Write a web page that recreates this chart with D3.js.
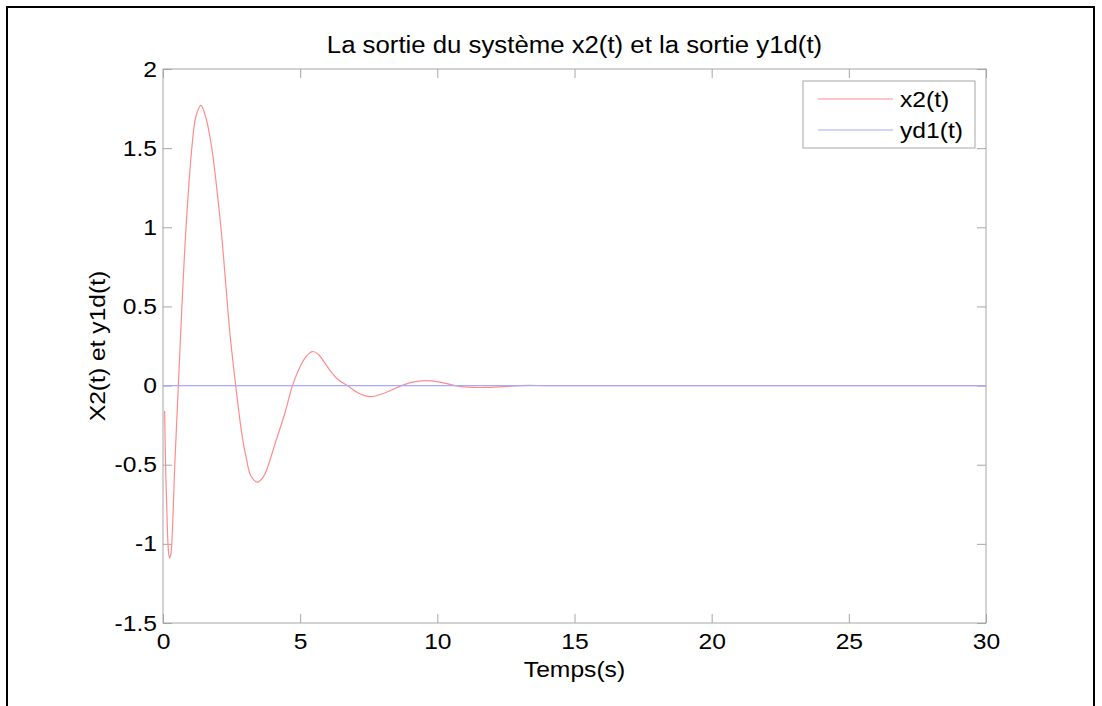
<!DOCTYPE html>
<html>
<head>
<meta charset="utf-8">
<script src="https://cdn.jsdelivr.net/npm/d3@7"></script>
<style>
  body { margin: 0; background: #fff; }
  svg { display: block; font-family: "Liberation Sans", Arial, sans-serif; }
</style>
</head>
<body>
<div id="chart"></div>
<script>
// values
const timeS = [0.06, 0.10, 0.15, 0.20, 0.24, 0.28, 0.32, 0.43, 0.56, 0.69, 0.84, 1.05, 1.20, 1.38, 1.55, 1.77, 2.11, 2.26, 2.44, 2.65, 2.87, 3.05, 3.20, 3.44, 3.68, 3.90, 4.08, 4.45, 4.72, 5.00, 5.20, 5.44, 5.65, 5.85, 6.09, 6.40, 6.72, 7.10, 7.55, 8.10, 8.70, 9.10, 9.55, 10.10, 10.64, 11.10, 11.70, 12.30, 13.00, 14.00, 16.00, 30.00]
const x2Values = [-0.16, -0.55, -0.85, -1.05, -1.09, -1.07, -1.0, -0.5, 0.0, 0.5, 1.0, 1.5, 1.70, 1.77, 1.70, 1.51, 1.0, 0.70, 0.33, 0.0, -0.30, -0.47, -0.57, -0.61, -0.57, -0.47, -0.37, -0.17, 0.0, 0.12, 0.18, 0.215, 0.20, 0.155, 0.095, 0.035, 0.0, -0.045, -0.07, -0.045, 0.0, 0.022, 0.031, 0.022, 0.0, -0.01, -0.012, -0.008, 0.0, 0.0, 0.0, 0.0]
const yd1Time = [0, 30]
const yd1Values = [0, 0]

const xTicks = [0, 5, 10, 15, 20, 25, 30]
const yTicks = [-1.5, -1, -0.5, 0, 0.5, 1, 1.5, 2]
const seriesNames = ['x2(t)', 'yd1(t)']
const seriesColors = ['#ff8c8c', '#a8a8ff']

const width = 1102
const height = 706
const plot = { left: 163, top: 69, right: 986, bottom: 623 }

// the reference text is a bit wider than the font, so stretch it
const stretch = 1.12
function widen(sel, factor) {
  sel.each(function () {
    const len = this.getComputedTextLength()
    d3.select(this)
      .attr('textLength', len * factor)
      .attr('lengthAdjust', 'spacingAndGlyphs')
  })
}

const svg = d3.select('#chart')
  .append('svg')
  .attr('width', width)
  .attr('height', height)

// outer frame
svg.append('rect')
  .attr('x', 7).attr('y', 7)
  .attr('width', 1087).attr('height', 720)
  .attr('fill', 'none')
  .attr('stroke', '#000')
  .attr('stroke-width', 2)

const x = d3.scaleLinear().domain([0, 30]).range([plot.left, plot.right])
const y = d3.scaleLinear().domain([-1.5, 2]).range([plot.bottom, plot.top])

const tickLen = 9
const axisColor = '#a6a6a6'

// axes box
svg.append('rect')
  .attr('x', plot.left).attr('y', plot.top)
  .attr('width', plot.right - plot.left)
  .attr('height', plot.bottom - plot.top)
  .attr('fill', 'none')
  .attr('stroke', axisColor)
  .attr('stroke-width', 1)

const fmt = d => String(d)
const xAxisBottom = d3.axisBottom(x).tickValues(xTicks).tickSizeInner(-tickLen).tickSizeOuter(0).tickPadding(10).tickFormat(fmt)
const xAxisTop = d3.axisTop(x).tickValues(xTicks).tickSizeInner(-tickLen).tickSizeOuter(0).tickFormat('')
const yAxisLeft = d3.axisLeft(y).tickValues(yTicks).tickSizeInner(-tickLen).tickSizeOuter(0).tickPadding(6).tickFormat(fmt)
const yAxisRight = d3.axisRight(y).tickValues(yTicks).tickSizeInner(-tickLen).tickSizeOuter(0).tickFormat('')

function styleAxis(g) {
  g.select('.domain').remove()
  g.selectAll('.tick line').attr('stroke', axisColor)
  g.selectAll('.tick text')
    .attr('fill', '#000')
    .attr('font-size', '22px')
    .attr('font-family', '"Liberation Sans", Arial, sans-serif')
    .call(widen, stretch)
}

svg.append('g').attr('transform', `translate(0,${plot.bottom})`).call(xAxisBottom).call(styleAxis)
svg.append('g').attr('transform', `translate(0,${plot.top})`).call(xAxisTop).call(styleAxis)
svg.append('g').attr('transform', `translate(${plot.left},0)`).call(yAxisLeft).call(styleAxis)
svg.append('g').attr('transform', `translate(${plot.right},0)`).call(yAxisRight).call(styleAxis)

// series
const x2Line = d3.line()
  .x((d, i) => x(timeS[i]))
  .y(d => y(d))
  .curve(d3.curveCatmullRom.alpha(0.5))

const ydLine = d3.line()
  .x((d, i) => x(yd1Time[i]))
  .y(d => y(d))

svg.append('path')
  .attr('d', x2Line(x2Values))
  .attr('fill', 'none')
  .attr('stroke', seriesColors[0])
  .attr('stroke-width', 1.2)

svg.append('path')
  .attr('d', ydLine(yd1Values))
  .attr('fill', 'none')
  .attr('stroke', seriesColors[1])
  .attr('stroke-width', 1.2)

// title and labels
svg.append('text')
  .attr('x', (plot.left + plot.right) / 2)
  .attr('y', 53)
  .attr('text-anchor', 'middle')
  .attr('font-size', '23px')
  .text('La sortie du système x2(t) et la sortie y1d(t)')
  .call(widen, stretch)

svg.append('text')
  .attr('x', (plot.left + plot.right) / 2)
  .attr('y', 677)
  .attr('text-anchor', 'middle')
  .attr('font-size', '22px')
  .text('Temps(s)')
  .call(widen, stretch)

svg.append('text')
  .attr('transform', `translate(105,${(plot.top + plot.bottom) / 2}) rotate(-90)`)
  .attr('text-anchor', 'middle')
  .attr('font-size', '22px')
  .text('X2(t) et y1d(t)')
  .call(widen, stretch)

// legend
const legend = svg.append('g').attr('transform', 'translate(803,81)')
legend.append('rect')
  .attr('width', 172).attr('height', 67)
  .attr('fill', '#fff')
  .attr('stroke', axisColor)

seriesNames.forEach((name, i) => {
  const row = 18 + i * 31
  legend.append('line')
    .attr('x1', 15).attr('x2', 90)
    .attr('y1', row).attr('y2', row)
    .attr('stroke', seriesColors[i])
    .attr('stroke-width', 1.2)
  legend.append('text')
    .attr('x', 97).attr('y', row + 8)
    .attr('font-size', '22px')
    .text(name)
    .call(widen, stretch)
})
</script>
</body>
</html>
